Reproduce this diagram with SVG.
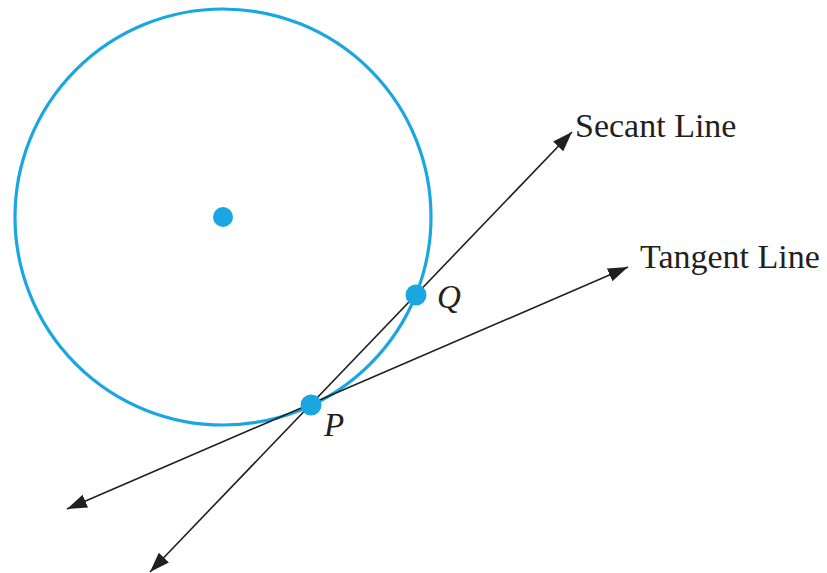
<svg xmlns="http://www.w3.org/2000/svg" width="827" height="573" viewBox="0 0 827 573">
<defs>
<marker id="arr" markerUnits="userSpaceOnUse" markerWidth="22" markerHeight="16" refX="20" refY="7" orient="auto-start-reverse" viewBox="0 0 22 14">
<path d="M0,0 L20,7 L0,14 Z" fill="#231f20"/>
</marker>
<style>
.ln{stroke:#231f20;stroke-width:1.6;fill:none;marker-start:url(#arr);marker-end:url(#arr)}
.blue{fill:#1aa7e1}
.lbl{font-family:"Liberation Serif","Times New Roman",serif;font-size:33px;fill:#231f20}
.it{font-style:italic}
</style>
</defs>
<rect width="827" height="573" fill="#fff"/>
<g id="circle">
<circle cx="223" cy="217" r="208" fill="none" stroke="#1aa7e1" stroke-width="3.2"/>
<circle class="blue" cx="223" cy="217" r="10"/>
</g>
<g id="connectors">
<line class="ln" x1="150" y1="572" x2="572" y2="132"/>
<line class="ln" x1="67" y1="509" x2="628" y2="267"/>
</g>
<g id="point-Q">
<circle class="blue" cx="416" cy="295" r="10.5"/>
<text class="lbl it" x="437" y="308">Q</text>
</g>
<g id="point-P">
<circle class="blue" cx="311" cy="405" r="10.5"/>
<text class="lbl it" x="324" y="436">P</text>
</g>
<g id="secant-label"><text class="lbl" x="575" y="137" style="font-size:34px">Secant Line</text></g>
<g id="tangent-label"><text class="lbl" x="640" y="268" style="font-size:34px">Tangent Line</text></g>
</svg>
